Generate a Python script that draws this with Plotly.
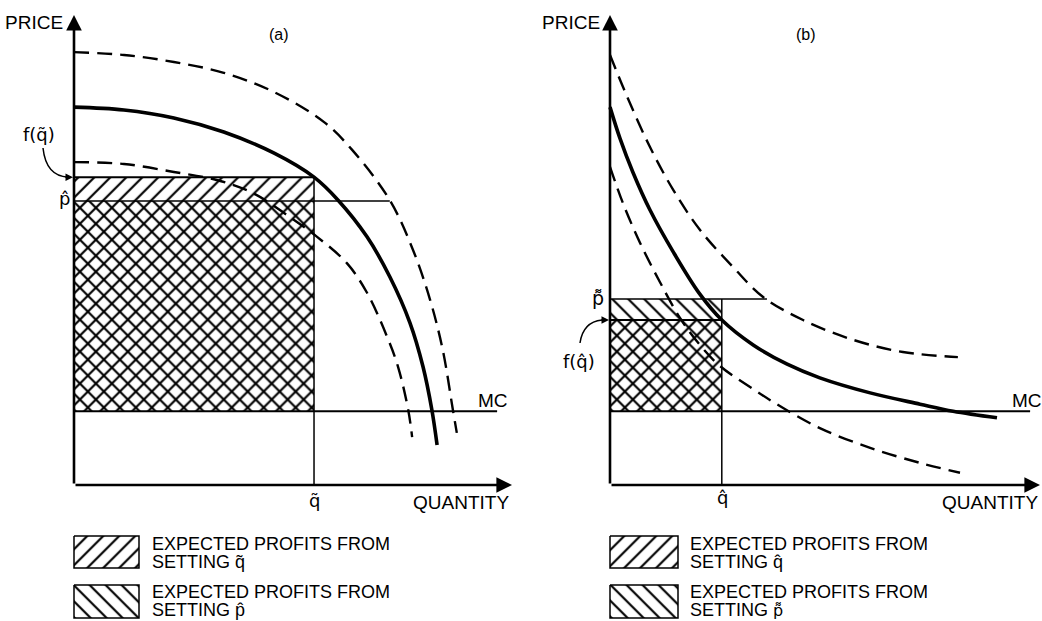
import plotly.graph_objects as go

# ---------------- data: panel (a) ----------------
a_solid_q = [0, 11.4, 22.8, 34.2, 45.7, 54.8, 60.3, 66.9, 72.1, 76.7, 79.7, 81.7, 82.9]
a_solid_p = [80.4, 79.8, 78.1, 75.1, 70.6, 65.5, 60.6, 52.8, 44.3, 34.5, 25.1, 16.0, 8.5]
a_upper_q = [0, 11.4, 22.8, 34.2, 45.7, 57.1, 63.5, 72.1, 77.4, 81.3, 84.2, 86.5, 87.4]
a_upper_p = [92.1, 91.5, 90.0, 87.7, 83.6, 77.2, 71.3, 60.6, 50.0, 39.4, 28.7, 16.0, 11.1]
a_lower_q = [0, 11.4, 22.8, 32.6, 40.9, 49.3, 55.5, 62.3, 66.9, 71.5, 74.0, 76.3, 77.2]
a_lower_p = [68.7, 68.3, 66.6, 64.9, 62.1, 57.0, 52.8, 47.2, 40.9, 31.5, 25.1, 16.0, 10.2]
a_q_tilde = 54.8        # q~
a_f_q_tilde = 65.5      # f(q~)
a_p_hat = 60.4          # p^
a_mc = 15.7             # marginal cost
a_p_hat_reach = 72.1    # p^ line meets upper dashed curve
a_mc_reach = 96.6

# ---------------- data: panel (b) ----------------
b_solid_q = [0, 2.3, 5.3, 9.3, 14.7, 20.9, 26.0, 33.3, 41.2, 48.8, 60.5, 72.1, 79.8, 90.0]
b_solid_p = [80.4, 73.8, 66.6, 58.5, 49.6, 40.6, 35.1, 29.8, 25.7, 22.8, 19.6, 17.2, 15.7, 14.3]
b_upper_q = [0, 4.0, 9.3, 14.7, 20.9, 28.6, 35.6, 44.9, 56.5, 68.1, 80.9]
b_upper_p = [91.5, 82.6, 71.9, 62.8, 54.3, 46.4, 40.0, 35.1, 30.9, 28.3, 27.2]
b_lower_q = [0, 3.0, 7.0, 11.6, 16.3, 20.9, 25.6, 33.3, 39.5, 48.8, 60.5, 72.1, 81.4]
b_lower_p = [67.7, 60.0, 51.5, 43.2, 35.5, 29.8, 25.3, 20.4, 16.8, 12.1, 7.9, 4.7, 2.6]
b_q_hat = 26.0          # q^
b_f_q_hat = 35.1        # f(q^)
b_p_tt = 39.6           # p~~
b_mc = 15.7
b_p_tt_reach = 36.5
b_mc_reach = 97.7

AXIS_MAX = 100

# ---------------- geometry (pixels) ----------------
FIG_W, FIG_H = 1042, 621
SPLIT = 521
A_OX, B_OX, OY = 74, 610, 485
A_SX, B_SX, SY = 4.38, 4.30, 4.70

TEXT_FONT = "Liberation Sans, Arial, sans-serif"
MATH_FONT = "DejaVu Sans, sans-serif"
P_TT = '<span style="font-family:DejaVu Sans;font-size:16px">p\u034C</span>'


def qa(px):
    return (px - A_OX) / A_SX


def qb(px):
    return (px - B_OX) / B_SX


def pp(py):
    return (OY - py) / SY


AX = {"a": ("x", "y"), "b": ("x2", "y2")}
fig = go.Figure()


def line(q, p, panel, width, dash=None, spline=False):
    xa, ya = AX[panel]
    ln = dict(color="black", width=width)
    if dash:
        ln["dash"] = dash
    if spline:
        ln["shape"] = "spline"
        ln["smoothing"] = 1.0
    fig.add_trace(go.Scatter(x=q, y=p, mode="lines", xaxis=xa, yaxis=ya, line=ln,
                             hoverinfo="skip", showlegend=False))


def hatch(q0, q1, p0, p1, panel, shape, border=0):
    xa, ya = AX[panel]
    fig.add_trace(go.Scatter(
        x=[q0, q1, q1, q0, q0], y=[p0, p0, p1, p1, p0], mode="lines",
        xaxis=xa, yaxis=ya, fill="toself", fillcolor="rgba(0,0,0,0)",
        fillpattern=dict(shape=shape, fgcolor="black", bgcolor="rgba(0,0,0,0)",
                         size=11.3, solidity=0.19, fillmode="replace"),
        line=dict(color="black", width=border if border else 0.01),
        hoverinfo="skip", showlegend=False))


annotations = []
shapes = []


def text(t, x, y, panel, size=19, xanchor="center", yanchor="middle", family=TEXT_FONT):
    xa, ya = AX[panel]
    annotations.append(dict(text=t, x=x, y=y, xref=xa, yref=ya, showarrow=False,
                            xanchor=xanchor, yanchor=yanchor, align="left",
                            font=dict(family=family, size=size, color="black")))


def legend_text(l1, l2, x, y, panel):
    t = (f'<span style="font-size:18px">{l1}</span><br>'
         f'<span style="font-size:18px">{l2}</span>')
    text(t, x, y, panel, size=14, xanchor="left")


def arrow(x, y, ax, ay, panel, width, size=1.0):
    xa, ya = AX[panel]
    annotations.append(dict(text="", x=x, y=y, ax=ax, ay=ay, xref=xa, yref=ya,
                            axref=xa, ayref=ya, showarrow=True, arrowhead=2,
                            arrowsize=size, arrowwidth=width, arrowcolor="black",
                            standoff=0, startstandoff=0))


# ---------------- panel (a) ----------------
hatch(0, a_q_tilde, a_mc, a_f_q_tilde, "a", "/")
hatch(0, a_q_tilde, a_mc, a_p_hat, "a", "\\")
line(a_upper_q, a_upper_p, "a", 2.4, dash="15px,8px", spline=True)
line(a_lower_q, a_lower_p, "a", 2.4, dash="15px,8px", spline=True)
line(a_solid_q, a_solid_p, "a", 3.6, spline=True)
line([0, a_q_tilde], [a_f_q_tilde, a_f_q_tilde], "a", 2)
line([0, a_p_hat_reach], [a_p_hat, a_p_hat], "a", 1.5)
line([0, a_mc_reach], [a_mc, a_mc], "a", 2)
line([a_q_tilde, a_q_tilde], [0, a_f_q_tilde], "a", 1.5)
arrow(0, AXIS_MAX, 0, 0, "a", 2.6, 1.2)
arrow(AXIS_MAX, 0, 0, 0, "a", 2.6, 1.2)

text("PRICE", qa(65), pp(22), "a", xanchor="right")
text("(a)", qa(279), pp(34), "a", size=16)
text("f(q\u0303)", qa(39), pp(134), "a", size=18, family=MATH_FONT)
text("p\u0302", qa(64), pp(198), "a", size=18, family=MATH_FONT)
text("q\u0303", qa(314), pp(500), "a", size=18, family=MATH_FONT)
text("QUANTITY", qa(511), pp(502), "a", xanchor="right")
text("MC", qa(493), pp(400), "a")
shapes.append(dict(type="path", xref="x", yref="y", line=dict(color="black", width=1.5),
                   path=f"M {qa(43)},{pp(148)} Q {qa(46)},{pp(176)} {qa(68)},{a_f_q_tilde}"))
arrow(qa(73), a_f_q_tilde, qa(64), a_f_q_tilde, "a", 1.5, 1.0)

# legend (a)
hatch(qa(74), qa(139), pp(536), pp(568), "a", "/", border=1.5)
hatch(qa(74), qa(139), pp(585), pp(618), "a", "\\", border=1.5)
legend_text("EXPECTED PROFITS FROM", "SETTING q\u0303", qa(150), pp(553), "a")
legend_text("EXPECTED PROFITS FROM", "SETTING p\u0302", qa(150), pp(601), "a")

# ---------------- panel (b) ----------------
hatch(0, b_q_hat, b_mc, b_f_q_hat, "b", "/")
hatch(0, b_q_hat, b_mc, b_p_tt, "b", "\\")
line(b_upper_q, b_upper_p, "b", 2.4, dash="15px,8px", spline=True)
line(b_lower_q, b_lower_p, "b", 2.4, dash="15px,8px", spline=True)
line(b_solid_q, b_solid_p, "b", 3.6, spline=True)
line([0, b_q_hat], [b_f_q_hat, b_f_q_hat], "b", 2)
line([0, b_p_tt_reach], [b_p_tt, b_p_tt], "b", 1.5)
line([0, b_mc_reach], [b_mc, b_mc], "b", 2)
line([b_q_hat, b_q_hat], [0, b_p_tt], "b", 1.5)
arrow(0, AXIS_MAX, 0, 0, "b", 2.6, 1.2)
arrow(AXIS_MAX, 0, 0, 0, "b", 2.6, 1.2)

text("PRICE", qb(602), pp(22), "b", xanchor="right")
text("(b)", qb(806), pp(34), "b", size=16)
text("p\u034C", qb(598), pp(298), "b", size=19, family=MATH_FONT)
text("f(q\u0302)", qb(579), pp(361), "b", size=18, family=MATH_FONT)
text("q\u0302", qb(722), pp(497), "b", size=18, family=MATH_FONT)
text("QUANTITY", qb(1040), pp(502), "b", xanchor="right")
text("MC", qb(1027), pp(400), "b")
shapes.append(dict(type="path", xref="x2", yref="y2", line=dict(color="black", width=1.5),
                   path=f"M {qb(580)},{pp(343)} Q {qb(583)},{pp(322)} {qb(602)},{b_f_q_hat}"))
arrow(qb(609), b_f_q_hat, qb(600), b_f_q_hat, "b", 1.5, 1.0)

# legend (b)
hatch(qb(610), qb(678), pp(536), pp(568), "b", "/", border=1.5)
hatch(qb(610), qb(678), pp(585), pp(618), "b", "\\", border=1.5)
legend_text("EXPECTED PROFITS FROM", "SETTING q\u0302", qb(688), pp(553), "b")
legend_text("EXPECTED PROFITS FROM", "SETTING " + P_TT, qb(688), pp(601), "b")

# ---------------- axes / layout ----------------
hidden = dict(visible=False, showgrid=False, zeroline=False, fixedrange=True)
fig.update_layout(
    width=FIG_W, height=FIG_H,
    margin=dict(l=0, r=0, t=0, b=0),
    paper_bgcolor="white", plot_bgcolor="white",
    xaxis=dict(domain=[0, SPLIT / FIG_W], range=[qa(0), qa(SPLIT)], **hidden),
    yaxis=dict(domain=[0, 1], range=[pp(FIG_H), pp(0)], anchor="x", **hidden),
    xaxis2=dict(domain=[SPLIT / FIG_W, 1], range=[qb(SPLIT), qb(FIG_W)], anchor="y2", **hidden),
    yaxis2=dict(domain=[0, 1], range=[pp(FIG_H), pp(0)], anchor="x2", **hidden),
    annotations=annotations,
    shapes=shapes,
    showlegend=False,
)

fig.write_html("out.html", config={"displayModeBar": False},
               post_script="document.body.style.margin='0';document.body.style.overflow='hidden';")
